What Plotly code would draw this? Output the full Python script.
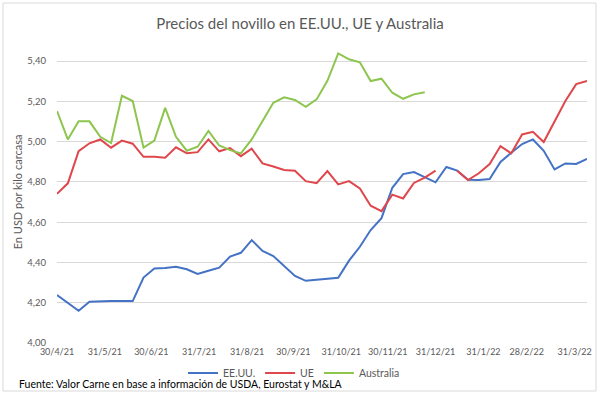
import plotly.graph_objects as go
import pandas as pd

start_date = "2021-04-30"
n_weeks = 50
dates = list(pd.date_range(start_date, periods=n_weeks, freq="7D"))

eeuu = [4.238, 4.200, 4.160, 4.205, 4.208, 4.208, 4.208, 4.208, 4.325, 4.370,
        4.373, 4.379, 4.366, 4.343, 4.359, 4.374, 4.429, 4.448, 4.511, 4.457,
        4.432, 4.384, 4.333, 4.309, 4.313, 4.319, 4.324, 4.409, 4.478, 4.561,
        4.620, 4.771, 4.839, 4.849, 4.823, 4.798, 4.874, 4.856, 4.811, 4.809,
        4.814, 4.899, 4.945, 4.988, 5.011, 4.955, 4.862, 4.892, 4.889, 4.915]

ue = [4.741, 4.793, 4.953, 4.992, 5.011, 4.970, 5.005, 4.990, 4.925, 4.925,
      4.920, 4.972, 4.942, 4.948, 5.011, 4.952, 4.968, 4.928, 4.965, 4.892,
      4.877, 4.859, 4.856, 4.804, 4.794, 4.854, 4.788, 4.804, 4.768, 4.682,
      4.655, 4.737, 4.718, 4.795, 4.821, 4.856, None, 4.856, 4.809, 4.843,
      4.889, 4.978, 4.942, 5.036, 5.049, 4.998, 5.099, 5.202, 5.286, 5.302]

australia = [5.152, 5.011, 5.101, 5.101, 5.024, 4.993, 5.228, 5.202, 4.970, 5.005,
             5.168, 5.024, 4.955, 4.975, 5.053, 4.981, 4.958, 4.942, 5.011, 5.102,
             5.193, 5.220, 5.207, 5.173, 5.210, 5.302, 5.438, 5.409, 5.394, 5.301,
             5.313, 5.243, 5.213, 5.235, 5.245]

tick_dates = ["2021-04-30", "2021-05-31", "2021-06-30", "2021-07-31", "2021-08-31",
              "2021-09-30", "2021-10-31", "2021-11-30", "2021-12-31", "2022-01-31",
              "2022-02-28", "2022-03-31"]
tick_labels = ["30/4/21", "31/5/21", "30/6/21", "31/7/21", "31/8/21", "30/9/21",
               "31/10/21", "30/11/21", "31/12/21", "31/1/22", "28/2/22", "31/3/22"]

y_ticks = [4.0, 4.2, 4.4, 4.6, 4.8, 5.0, 5.2, 5.4]

FONT = "Lato, Open Sans, sans-serif"
GRAY = "#595959"

fig = go.Figure()
fig.add_trace(go.Scatter(x=dates, y=eeuu, name="EE.UU.", mode="lines",
                         line=dict(color="#4472C4", width=2)))
fig.add_trace(go.Scatter(x=dates, y=ue, name="UE", mode="lines",
                         line=dict(color="#E0474C", width=2), connectgaps=False))
fig.add_trace(go.Scatter(x=dates[:len(australia)], y=australia, name="Australia",
                         mode="lines", line=dict(color="#8DC54F", width=2)))

L, R, T, B = 57, 13, 41, 51
W, H = 600, 394
pw, ph = W - L - R, H - T - B

def px_x(px):
    return (px - L) / pw

def px_y(py):
    return (H - B - py) / ph

fig.update_layout(
    width=W, height=H,
    margin=dict(l=L, r=R, t=T, b=B, autoexpand=False),
    paper_bgcolor="white", plot_bgcolor="white",
    separators=",.",
    font=dict(family=FONT, color=GRAY, size=10),
    title=dict(text="Precios del novillo en EE.UU., UE y Australia",
               x=0.5, xanchor="center", y=1 - 24 / H, yanchor="middle",
               font=dict(family=FONT, size=15, color=GRAY)),
    showlegend=True,
    legend=dict(orientation="h", xref="container", yref="container",
                x=0.49, xanchor="center",
                y=1 - 373 / H, yanchor="middle",
                font=dict(family=FONT, size=10.5, color=GRAY),
                itemwidth=30, tracegroupgap=0, bgcolor="rgba(0,0,0,0)"),
    xaxis=dict(type="date", range=[dates[0], dates[-1]], automargin=False,
               tickvals=tick_dates, ticktext=tick_labels, tickangle=0,
               showgrid=False, zeroline=False, showline=False,
               ticks="", ticklabelstandoff=2,
               tickfont=dict(size=9, color=GRAY)),
    yaxis=dict(range=[4.0, 5.5], tickvals=y_ticks, tickformat=".2f",
               automargin=False,
               showgrid=True, gridcolor="#D9D9D9", gridwidth=1,
               zeroline=False, showline=False, ticks="",
               ticklabelstandoff=10,
               tickfont=dict(size=9.5, color=GRAY),
               title=dict(text="En USD por kilo carcasa", standoff=2,
                          font=dict(size=11, color=GRAY))),
    shapes=[dict(type="rect", xref="paper", yref="paper",
                 x0=px_x(3), x1=px_x(596), y0=px_y(391), y1=px_y(3),
                 line=dict(color="#D9D9D9", width=1), fillcolor="rgba(0,0,0,0)",
                 layer="below")],
    annotations=[dict(text="Fuente: Valor Carne en base a información de USDA, Eurostat y M&LA",
                      xref="paper", yref="paper", x=px_x(17), y=px_y(384),
                      xanchor="left", yanchor="middle", showarrow=False,
                      font=dict(family=FONT, size=10.5, color="#000000"))],
)

fig.write_html("out.html", config={"displayModeBar": False},
               post_script="document.body.style.margin='0';document.body.style.overflow='hidden';")
